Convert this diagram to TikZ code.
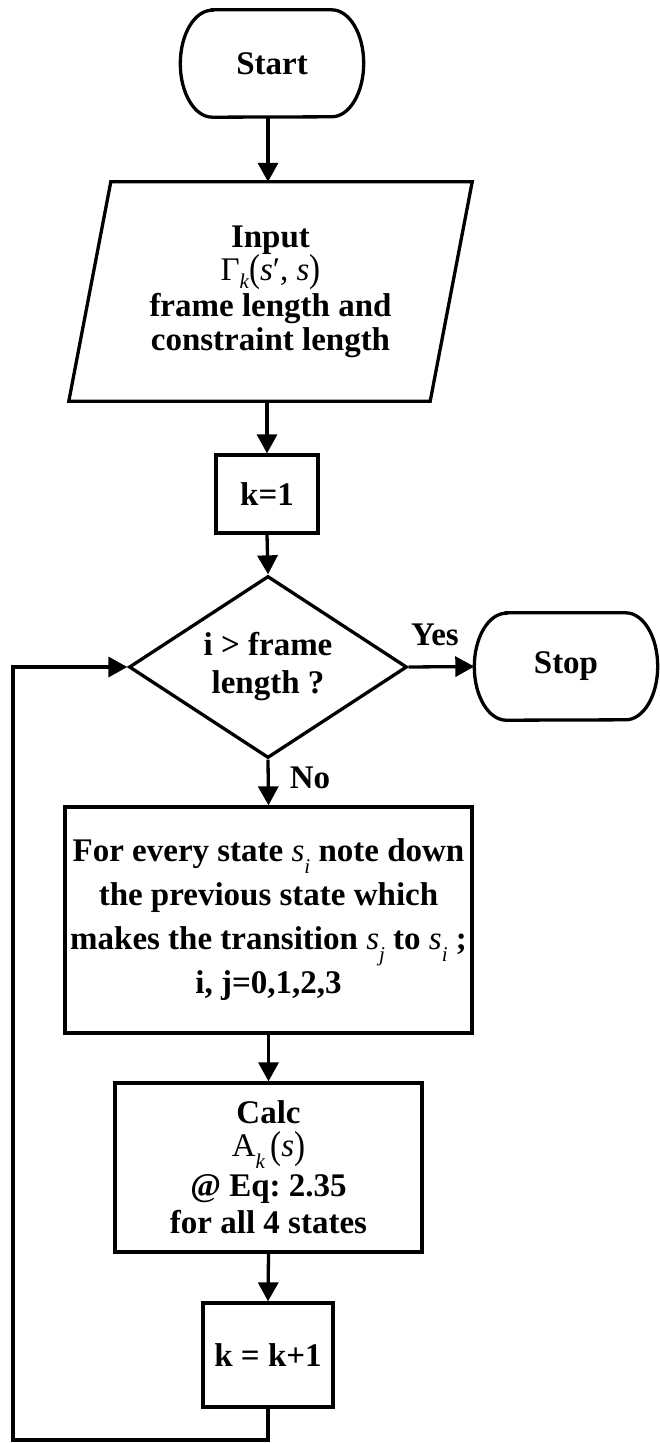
\documentclass[tikz,border=0pt]{standalone}
\usepackage{fontspec}
\setmainfont{Liberation Serif}
\usepackage{graphicx}
\usetikzlibrary{arrows.meta,shapes.geometric,calc}

% small italic index set low, taking no vertical room
\newcommand{\lowsub}[2][0.36em]{\raisebox{-#1}[0pt][0pt]{\fontsize{21}{21}\selectfont\mdseries\itshape #2}}
% slightly stretched brackets
\newcommand{\tallparen}[1]{\raisebox{-0.04em}[0pt][0pt]{\scalebox{1}[1.18]{#1}}}
\newcommand{\sv}{{\mdseries\itshape s}}
% outline of a start/stop box: straight top and bottom, half-ellipse ends
\newcommand{\terminaloutline}[1]{%
  \draw[line] ($(#1.north west)+(32,0)$) -- ($(#1.north east)+(-32,0)$)
    arc[start angle=-90, end angle=90, x radius=32, y radius=53.5]
    -- ($(#1.south west)+(32,0)$)
    arc[start angle=90, end angle=270, x radius=32, y radius=53.5] -- cycle;}

\begin{document}
\frenchspacing
\begin{tikzpicture}[x=1pt,y=-1pt,
  every node/.style={font=\fontsize{33}{38}\selectfont\bfseries, align=center, inner sep=0pt},
  line/.style={line width=3.3pt, line join=miter},
  flow/.style={line width=3.3pt, line join=miter, -{Triangle[length=19pt,width=20pt]}},
  terminal/.style={minimum width=183pt, minimum height=107pt},
  process/.style={draw, line width=3.3pt, rectangle},
  decision/.style={draw, line width=3.3pt, diamond, aspect=1.53, minimum width=278pt, minimum height=182pt},
]
\useasboundingbox (0,0) rectangle (659,1443);

% nodes
\node[terminal] (start) at (272,63.5) {Start};
\terminaloutline{start}

\node[minimum width=361pt, minimum height=219pt, font=\fontsize{33}{34}\selectfont\bfseries] (input) at (270.5,291.5)
  {Input\\[-1pt]
   {\mdseries Γ\lowsub[0.26em]{k}\tallparen{(}\sv′, \sv\tallparen{)}}\\[2pt]
   frame length and\\
   constraint length};
\draw[line] ($(input.south west)+(-21,0)$) -- ($(input.south east)+(-21,0)$)
  -- ($(input.north east)+(21,0)$) -- ($(input.north west)+(21,0)$) -- cycle;

\node[process, minimum width=102pt, minimum height=78pt] (k1) at (267,494) {k=1};

\node[decision] (dec) at (268,667) {i > frame\\length ?};

\node[terminal] (stop) at (566,666.5) {Stop};
\terminaloutline{stop}

\node[process, minimum width=407pt, minimum height=226pt, font=\fontsize{33}{44}\selectfont\bfseries] (scan) at (268.5,920)
  {For every state \sv\lowsub{i} note down\\
   the previous state which\\
   makes the transition \sv\lowsub{j} to \sv\lowsub{i} ;\\
   i, j=0,1,2,3};

\node[process, minimum width=307pt, minimum height=169pt, font=\fontsize{33}{37}\selectfont\bfseries] (calc) at (268.5,1167.5)
  {Calc\\[-4pt]
   {\mdseries A\lowsub{k}\,\tallparen{(}\sv\tallparen{)}}\\[3pt]
   @ Eq: 2.35\\
   for all 4 states};

\node[process, minimum width=130pt, minimum height=104pt] (inc) at (268,1355) {k = k+1};

\coordinate (loopcorner) at (13,1440);

% connectors
\draw[flow] (start.south -| dec) -- (dec |- input.north);
\draw[flow] (k1.north |- input.south) -- (k1.north);
\draw[flow] (k1.south) -- (dec.north);
\draw[flow] (dec.east) -- node[pos=0.4, above=19pt] (yes) {Yes} (stop.west);
\draw[flow] (dec.south) -- node[pos=0.4, right=20pt] (no) {No} (scan.north);
\draw[flow] (scan.south) -- (calc.north);
\draw[flow] (calc.south) -- (inc.north);
\draw[flow] (inc.south) |- (loopcorner) |- (dec.west);
\end{tikzpicture}
\end{document}
